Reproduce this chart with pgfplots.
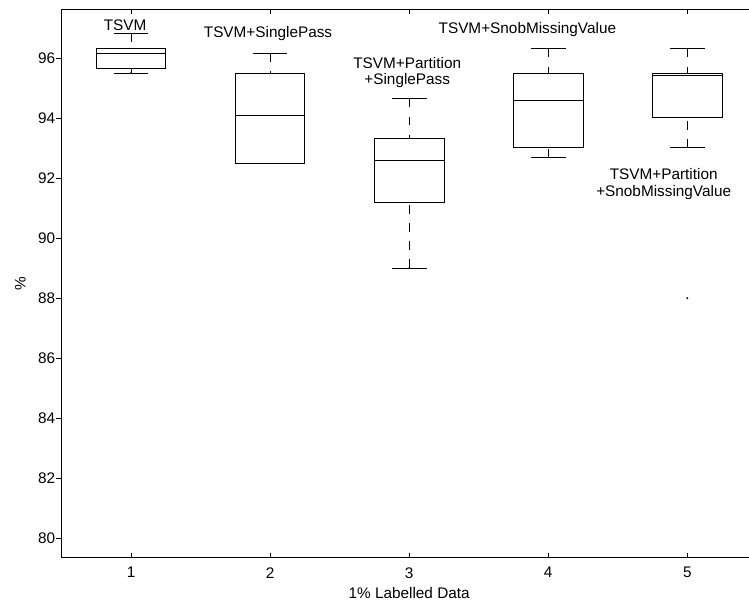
\documentclass[border=0pt]{standalone}
\usepackage{fontspec}
\setmainfont{Liberation Sans}
\usepackage{pgfplots}
\pgfplotsset{compat=1.18}

% one MATLAB-style box: #1 position, #2 lower whisker, #3 lower quartile,
% #4 median, #5 upper quartile, #6 upper whisker
\newcommand{\mlbox}[6]{%
  \addplot[black, line width=0.6pt] coordinates
    {({#1-0.25},#3) ({#1+0.25},#3) ({#1+0.25},#5) ({#1-0.25},#5) ({#1-0.25},#3)};
  \addplot[black, line width=0.6pt] coordinates {({#1-0.25},#4) ({#1+0.25},#4)};
  \addplot[black, line width=0.6pt, dash pattern=on 6.5pt off 7pt] coordinates {(#1,#2) (#1,#3)};
  \addplot[black, line width=0.6pt, dash pattern=on 6.5pt off 7pt] coordinates {(#1,#6) (#1,#5)};
  \addplot[black, line width=0.6pt] coordinates {({#1-0.125},#2) ({#1+0.125},#2)};
  \addplot[black, line width=0.6pt] coordinates {({#1-0.125},#6) ({#1+0.125},#6)};
}

\begin{document}
\begin{tikzpicture}
\begin{axis}[
    scale only axis,
    width=521.5pt, height=411.3pt,
    xmin=0.5, xmax=5.5,
    ymin=79.35, ymax=97.63,
    axis y line*=left,
    xtick={1,2,3,4,5},
    ytick={80,82,...,96},
    ytick pos=left,
    xtick align=inside,
    ytick align=outside,
    major tick length=3.75pt,
    tick style={black, line width=0.6pt},
    axis line style={black, line width=0.9pt},
    font=\fontsize{11.5}{12.5}\selectfont,
    /pgf/number format/assume math mode=true,
    yticklabel style={inner xsep=0.75pt},
    xticklabel style={yshift=-3.75pt},
    ylabel shift=5pt,
    xlabel={1\% Labelled Data},
    ylabel={\%},
    clip=false,
]
\mlbox{1}{95.5}{95.67}{96.17}{96.31}{96.82}
\mlbox{2}{92.5}{92.5}{94.08}{95.49}{96.17}
\mlbox{3}{89.0}{91.18}{92.58}{93.33}{94.65}
\mlbox{4}{92.68}{93.01}{94.58}{95.49}{96.32}
\mlbox{5}{93.01}{94.01}{95.41}{95.49}{96.32}
% outlier marks
\addplot[only marks, mark=*, mark size=0.5pt, black] coordinates {(1,95.5) (3,89.0) (5,88.0)};

\node[inner sep=0] at (axis cs:0.957,97.11) {TSVM};
\node[inner sep=0] at (axis cs:1.985,96.81) {TSVM+SinglePass};
\node[inner sep=0, align=center] at (axis cs:2.986,95.52) {TSVM+Partition\\+SinglePass};
\node[inner sep=0] at (axis cs:3.85,96.94) {TSVM+SnobMissingValue};
\node[inner sep=0, align=center] at (axis cs:4.83,91.8) {TSVM+Partition\\+SnobMissingValue};
\end{axis}
\pgfresetboundingbox
\useasboundingbox (-46.125pt,-35.5pt) rectangle (515.625pt,418.25pt);
\end{tikzpicture}
\end{document}
